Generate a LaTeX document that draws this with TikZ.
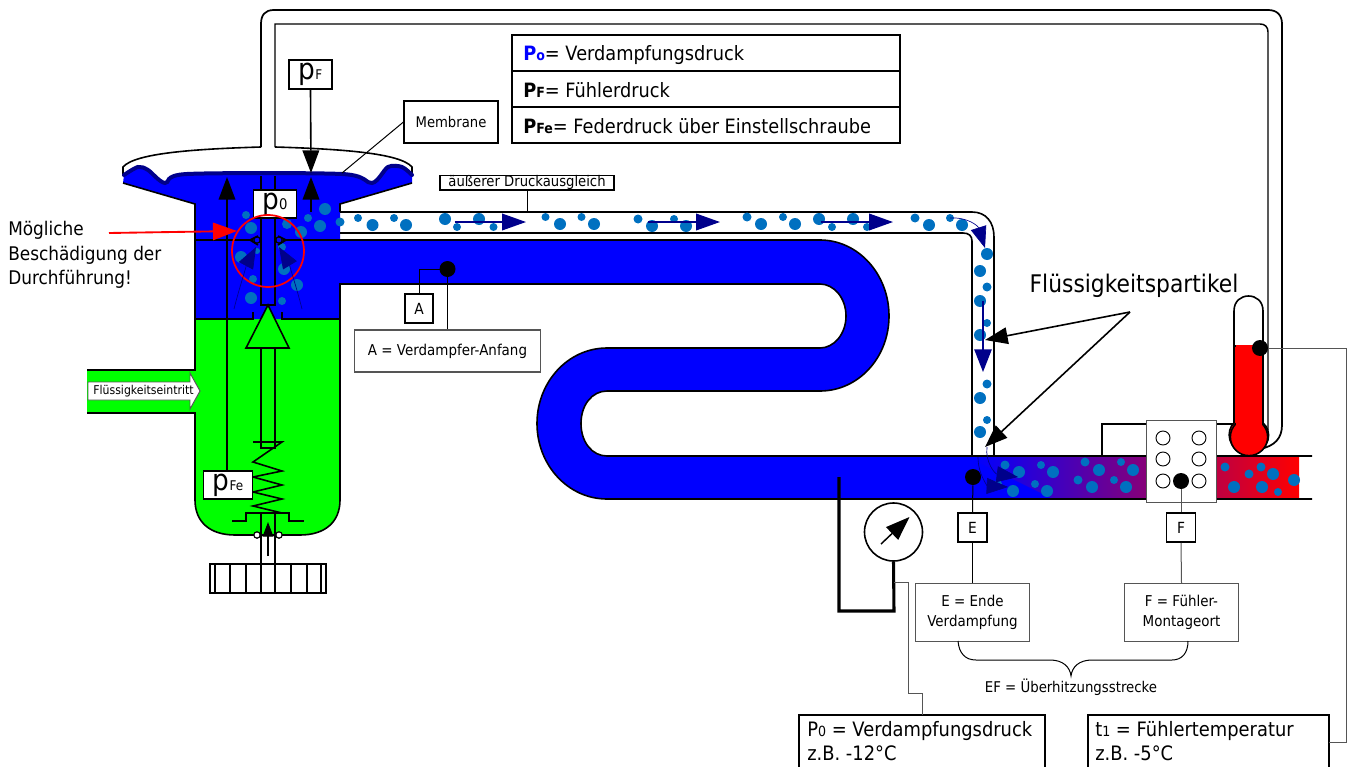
\documentclass[tikz,border=0pt]{standalone}
\usepackage{fontspec}
\setmainfont[FakeStretch=0.9]{DejaVu Sans}
\usetikzlibrary{arrows.meta}
\definecolor{dotblue}{RGB}{0,112,192}
\definecolor{navyb}{RGB}{0,0,139}
\definecolor{lime}{RGB}{0,255,0}
\definecolor{edgegray}{RGB}{85,85,85}
\newcommand{\pf}[2]{{\fontsize{22}{22}\selectfont p}{\fontsize{#2}{#2}\selectfont #1}}
\newcommand{\lgP}[2]{{\bfseries\color{#2}P{\fontsize{10.5}{10.5}\selectfont #1}}}
\tikzset{
  heavy/.style={line width=1.5pt,black},
  med/.style={line width=1.2pt,black},
  thin line/.style={line width=0.75pt,black},
  grayline/.style={line width=0.75pt,edgegray},
  tagbox/.style={draw=black,line width=1.2pt,fill=white,inner sep=0pt,font=\fontsize{11.5}{13}\selectfont},
  labelbox/.style={draw=edgegray,line width=0.8pt,fill=white,inner sep=0pt,align=center,font=\fontsize{11.2}{15}\selectfont},
  pbox/.style={draw=black,line width=1.2pt,fill=white,inner sep=0pt},
  bigblack/.style={-{Triangle[length=17pt,width=12.5pt]},line width=1.2pt},
  redarrow/.style={-{Triangle[length=18pt,width=13pt]},line width=1.4pt,red},
  navyarrow/.style={-{Triangle[length=18pt,width=12.5pt]},line width=1.2pt,navyb},
  thinnavy/.style={-{Triangle[length=16pt,width=12pt]},line width=0.5pt,navyb},
  blackdot/.style={circle,fill=black,inner sep=0pt,minimum size=12pt},
  holedot/.style={circle,draw=black,line width=0.7pt,fill=white,inner sep=0pt,minimum size=10.5pt},
  oring/.style={circle,draw=black,line width=0.9pt,inner sep=0pt,minimum size=4.8pt},
  plaintext/.style={inner sep=0pt,align=left},
  legendrow/.style={draw=black,line width=0.9pt,fill=white,inner sep=0pt,minimum width=291pt,minimum height=27pt},
  legendtext/.style={inner sep=0pt,anchor=base west,font=\fontsize{14.8}{16}\selectfont},
  readout/.style={inner sep=0pt,anchor=west,font=\fontsize{14.9}{18}\selectfont,align=left},
}
\begin{document}
\begin{tikzpicture}[x=0.75pt,y=-0.75pt]
\useasboundingbox (0,0) rectangle (1349,767);
% capillary
\draw[med,line width=1.3pt] (261,147) -- (261,24) .. controls (261,15) and (265,10) .. (274,10) -- (1268,10) .. controls (1277,10) and (1282,15) .. (1282,24) -- (1282,425) .. controls (1282,438) and (1275,446) .. (1260,449);
\draw[med,line width=1.1pt] (275,147) -- (275,24) -- (1260,24) .. controls (1265,24) and (1268,27) .. (1268,32) -- (1268,430);
% membrane top
\draw[med] (261,147) .. controls (195,149) and (135,153) .. (123,167) -- (123,176);
\draw[med] (275,147) .. controls (341,149) and (400,153) .. (412,167) -- (412,176);
% inlet and lower body
\fill[lime] (87,370) -- (200,370) -- (200,413) -- (87,413) -- cycle;
\fill[lime] (195,315) -- (340,315) -- (340,500) .. controls (340,522) and (325,535) .. (300,535) -- (235,535) .. controls (210,535) and (195,522) .. (195,500) -- cycle;
% upper body
\fill[blue] (123,183) -- plot[smooth] coordinates {(124,175) (138,167) (148,170) (165,183) (187,174) (342,174) (372,183) (388,167) (402,167) (412,175)} -- (412,183) -- (340,204) -- (340,319) -- (195,319) -- (195,204) -- cycle;
% evaporator
\fill[blue] (340,240) -- (820,240) .. controls (858,240) and (889,274) .. (889,316) .. controls (889,358) and (858,391) .. (820,391) -- (607,391) .. controls (592,391) and (581,405) .. (581,423.5) .. controls (581,442) and (592,456) .. (607,456) -- (980,456) -- (980,499) -- (607,499) .. controls (568,499) and (537,465) .. (537,423.5) .. controls (537,382) and (568,348) .. (607,348) -- (820,348) .. controls (834,348) and (846,334) .. (846,316) .. controls (846,298) and (834,284) .. (820,284) -- (340,284) -- cycle;
\shade[left color=blue,right color=red] (975,456) rectangle (1299,499);
\fill[blue] (965,456) -- (1053,499) -- (965,499) -- cycle;
% outlines
\draw[med] (123,183) -- (195,204) -- (195,370) -- (87,370);
\draw[med] (87,413) -- (195,413) -- (195,500) .. controls (195,522) and (210,535) .. (235,535) -- (300,535) .. controls (325,535) and (340,522) .. (340,500) -- (340,284) -- (820,284) .. controls (834,284) and (846,298) .. (846,316) .. controls (846,334) and (834,348) .. (820,348) -- (607,348) .. controls (568,348) and (537,382) .. (537,423.5) .. controls (537,465) and (568,499) .. (607,499) -- (1312,499);
\draw[med] (412,183) -- (340,204) -- (340,212);
\draw[med] (195,240) -- (253,240);
\draw[med] (283,240) -- (340,240) -- (820,240) .. controls (858,240) and (889,274) .. (889,316) .. controls (889,358) and (858,391) .. (820,391) -- (607,391) .. controls (592,391) and (581,405) .. (581,423.5) .. controls (581,442) and (592,456) .. (607,456) -- (1312,456);
% equalisation tube
\draw[med] (340,212) -- (972,212) .. controls (986,212) and (994,222) .. (994,237) -- (994,456);
\draw[med] (340,233) -- (963,233) .. controls (969,233) and (972,236) .. (972,241) -- (972,456);
% valve details
\draw[heavy] (195,319) -- (253,319) -- (253,312);
\draw[med] (340,319) -- (282,319) -- (282,312);
% particles in the valve and tube
\foreach \x/\y/\r in {246/215/4,251/228/6,241/257/6,257/251/3,282/247/4,287/224/5,301/232/6,308/218/4,320/226/6,325/209/6,340/222/4.5,284/269/6,297/285/6,253/279/4,251/298/6,282/301/4,
358/218/4,372.5/225/6,394/218/4,406/225/6,445/219/6,457/227/4,479/219/6,493.5/227/4,545.5/217/4,560/224/6,581.5/217/4,594/224/6,638/219/4.5,652/226/6,674/219/4,686/226/6,747/217/4.5,761/224/6,783/217/4,795/224/6,819/219/6,832/227/4,853/219/6,867/227/4,915/218/4.5,929/225/6,950/218/4,962/225/6,
987/254/6,980/271/6,987/287/4.5,980/301/6,987/323/4,980/335/6,987/384/4.5,980/398/6,987/420/4,980/432/6,
1005/465/4.5,1019/472/6,1041/465/4,1053/472/6,1035/484/4,1047/491/6,1013/491/6,998/484/4,1085/462/4.5,1099/470/6,1121/462/4,1133/470/6,1078/480/4.5,1092/487/6,1114/480/4,1126/487/6,1225/467/4.5,1249/474/4.5,1261/467/4.5,1273/474/6,1234/487/6,1262/487/6,1278/492/4,1294/480/6}
  \fill[dotblue] (\x,\y) circle[radius=\r*0.75pt];
% stem
\fill[blue] (261,177) rectangle (275,305);
\draw[med] (261,176) -- (261,305) -- (275,305) -- (275,176);
% membrane wave
\draw[navyb,line width=3pt,line cap=round] plot[smooth] coordinates {(124,175) (138,167) (148,170) (165,183) (187,174) (342,174) (372,183) (388,167) (402,167) (412,175)};
% o-rings
\node[oring] (ringl) at (257,240) {};
\node[oring] (ringr) at (279,240) {};
\draw[med] (258,236) -- (250,240) -- (258,245);
\draw[med] (278,236) -- (286,240) -- (278,245);
% cone, rod, spring
\draw[med,fill=lime] (268,305) -- (246,348) -- (289,348) -- cycle;
\draw[med] (261,348) -- (261,448) -- (275,448) -- (275,348);
\draw[med] (253,442) -- (282,442) -- (253,462) -- (282,471) -- (253,477) -- (282,485) -- (253,492) -- (282,499) -- (253,506) -- (282,513);
\draw[med] (232,521) -- (246,521) -- (246,513) -- (289,513) -- (289,521) -- (304,521);
\draw[med] (261,513) -- (261,535);
\draw[med] (275,513) -- (275,535);
\fill[white] (261,536) rectangle (275,564);
\draw[med] (261,535) -- (261,564);
\draw[med] (275,535) -- (275,564);
\node[oring,fill=white] (ringa) at (257,535) {};
\node[oring,fill=white] (ringb) at (279,535) {};
\coordinate (adjlow) at (268,556);
\coordinate (adjtip) at (268,522);
\draw[-{Triangle[length=11pt,width=8pt]},line width=1pt] (adjlow) -- (adjtip);
% knob
\draw[med,fill=white] (210,564) rectangle (326,593);
\foreach \x in {215,230,246,261,275,291,307,321} \draw[med] (\x,564) -- (\x,593);
% pressure boxes
\node[pbox,minimum width=32pt,minimum height=21.5pt] (pF) at (310.5,74.5) {\pf{F}{10}};
\node[pbox,minimum width=32pt,minimum height=21pt] (p0) at (275,204) {\pf{0}{11}};
\node[pbox,minimum width=37pt,minimum height=21pt] (pFe) at (228,485) {\pf{Fe}{10}};
\coordinate (memtip) at (311,173);
\coordinate (up1) at (311,212);
\coordinate (up1tip) at (311,177);
\coordinate (up2tip) at (227,177);
\draw[bigblack] (pF.south) -- (memtip);
\draw[bigblack] (up1) -- (up1tip);
\draw[bigblack] (pFe.north -| up2tip) -- (up2tip);
% inlet arrow
\draw[line width=0.7pt,edgegray,fill=white] (88,382) -- (190,382) -- (190,373) -- (200,391) -- (190,409) -- (190,400) -- (88,400) -- cycle;
\node[inner sep=0pt,font=\fontsize{9.1}{10}\selectfont] (inlet) at (143.5,391) {Flüssigkeitseintritt};
% damage marker
\coordinate (circ) at (268,251);
\draw[red,line width=1.3pt] (circ) circle[radius=27pt];
\node[plaintext,anchor=west,font=\fontsize{14.1}{18.5}\selectfont] (damage) at (8,255) {Mögliche\\Beschädigung der\\Durchführung!};
\coordinate (dmgs) at (109,233);
\coordinate (dmgt) at (237,231);
\draw[redarrow] (dmgs) -- (dmgt);
% navy arrows
\coordinate (na) at (234,309);
\coordinate (nb) at (302,309);
\draw[thinnavy] (na) .. controls (240,285) and (248,262) .. (256,247);
\draw[thinnavy] (nb) .. controls (296,285) and (288,262) .. (279,247);
\foreach \s/\t in {454.5/526,648/720,820.5/893} \draw[navyarrow] (\s,222) -- (\t,222);
\draw[thinnavy] (950,218) .. controls (968,217) and (978,226) .. (985,248);
\draw[navyarrow,-{Triangle[length=17pt,width=13pt]}] (983,301) -- (983,372);
\draw[thinnavy] (987,447) .. controls (985,462) and (995,474) .. (1018,477);
\draw[thinnavy] (978,457) .. controls (978,475) and (988,486) .. (1008,487);
% partikel label
\node[inner sep=0pt,font=\fontsize{18.2}{20}\selectfont] (part) at (1134,286) {Flüssigkeitspartikel};
\coordinate (partc) at (1130,312);
\coordinate (partt1) at (985,340);
\coordinate (partt2) at (985,447);
\draw[bigblack] (partc) -- (partt1);
\draw[bigblack] (partc) -- (partt2);
% sensor
\draw[med] (1102,456) -- (1102,424) -- (1146,424);
\draw[med] (1217,424) -- (1236,424);
\node[draw=edgegray,line width=0.9pt,fill=white,minimum width=53pt,minimum height=62pt,inner sep=0pt] (sensor) at (1181.5,461.5) {};
\foreach \x/\y [count=\i] in {1163/438,1199/438,1163/459,1199/459,1163/481,1199/481}
  \node[holedot] (h\i) at (\x,\y) {};
% thermometer
\draw[med,fill=white] (1234,346) -- (1234,311) .. controls (1234,301) and (1241,296) .. (1248.5,296) .. controls (1256,296) and (1263,301) .. (1263,311) -- (1263,346) -- cycle;
\draw[med,fill=red] (1234,346) -- (1263,346) -- (1263,423) .. controls (1272,430) and (1272,450) .. (1249,456) .. controls (1226,450) and (1226,430) .. (1234,423) -- cycle;
\draw[med,fill=red] (1249,437) circle[radius=14pt];
\fill[red] (1235.5,345) rectangle (1261.5,428);
\node[blackdot] (tdot) at (1260,348) {};
% probes
\node[blackdot] (adot) at (447.5,269) {};
\node[blackdot] (edot) at (973,477) {};
\node[blackdot] (fdot) at (1181,481) {};
\node[tagbox,minimum width=21pt,minimum height=22pt] (A) at (419,308.5) {A};
\node[tagbox,minimum width=22pt,minimum height=22pt] (E) at (972.5,527.5) {E};
\node[tagbox,minimum width=22pt,minimum height=22pt] (F) at (1181,527.5) {F};
\node[labelbox,minimum width=140pt,minimum height=31.5pt] (Alab) at (447.5,351) {A = Verdampfer-Anfang};
\node[labelbox,minimum width=86pt,minimum height=43pt] (Elab) at (972.5,612.5) {E = Ende\\Verdampfung};
\node[labelbox,minimum width=86pt,minimum height=43pt] (Flab) at (1181.5,612.5) {F = Fühler-\\Montageort};
\draw[thin line] (adot.center) -| (A.north);
\draw[thin line] (adot) -- (Alab.north);
\draw[thin line] (edot) -- (E.north);
\draw[thin line] (E.south) -- (Elab.north);
\draw[grayline] (fdot) -- (F.north);
\draw[grayline] (F.south) -- (Flab.north);
% brace
\coordinate (brl) at (958,641);
\coordinate (brr) at (1188,641);
\draw[thin line] (brl) .. controls (959,653) and (965,660) .. (976,660) -- (1050,660) .. controls (1063,660) and (1070,667) .. (1071,676) .. controls (1072,667) and (1079,660) .. (1092,660) -- (1172,660) .. controls (1182,660) and (1188,653) .. (brr);
\node[inner sep=0pt,font=\fontsize{11.1}{12}\selectfont] (EF) at (1071,687) {EF = Überhitzungsstrecke};
% gauge
\node[circle,draw=black,line width=1.2pt,fill=white,minimum size=43.5pt,inner sep=0pt] (gauge) at (893.5,532) {};
\coordinate (gs) at (881,544);
\coordinate (gt) at (909.5,517);
\draw[-{Triangle[length=18pt,width=13pt]},line width=1.1pt] (gs) -- (gt);
\coordinate (pipe) at (839,477);
\draw[line width=2.3pt,line join=miter] (pipe) -- (839,611) -- (894,611) -- (gauge.south);
% Druck / temperature labels
\coordinate (plow) at (894,582);
\node[readout] (P0lab) at (807,741) {P{\fontsize{10.5}{10}\selectfont 0} = Verdampfungsdruck\\z.B. -12°C};
\node[readout] (t1lab) at (1095,741) {t{\fontsize{10.5}{10}\selectfont 1} = Fühlertemperatur\\z.B. -5°C};
\draw[med] (799,767) -- (799,715) -- (1045,715) -- (1045,767);
\draw[med] (1088,767) -- (1088,715) -- (1329,715) -- (1329,767);
\coordinate (pbox) at (922,715);
\coordinate (tbox) at (1329,742);
\draw[grayline] (plow) -- (908,582) -- (908,693) -- (922,693) -- (pbox);
\draw[grayline] (tdot) -- (1346,348) -- (1346,742) -- (tbox);
% top labels
\node[labelbox,draw=black,minimum width=70.5pt,minimum height=31.5pt,font=\fontsize{11}{12}\selectfont] (mem) at (451,122) {Membrane};
\coordinate (memp) at (342,173);
\draw[thin line] (mem.west) -- (memp);
\node[draw=black,line width=1pt,fill=white,inner sep=0pt,minimum width=130.5pt,minimum height=11pt,font=\fontsize{11}{10}\selectfont] (aus) at (527,182.5) {äußerer Druckausgleich};
\coordinate (ausp) at (527,212);
\draw[thin line] (aus.south) -- (ausp);
% legend
\node[legendrow] (l1) at (706,53) {};
\node[legendrow] (l2) at (706,89) {};
\node[legendrow] (l3) at (706,125) {};
\node[legendtext] (t1) at (523,61) {\lgP{o}{blue}= Verdampfungsdruck};
\node[legendtext] (t2) at (523,97.5) {\lgP{F}{black}= Fühlerdruck};
\node[legendtext] (t3) at (523,133.5) {\lgP{Fe}{black}= Federdruck über Einstellschraube};
\end{tikzpicture}
\end{document}
